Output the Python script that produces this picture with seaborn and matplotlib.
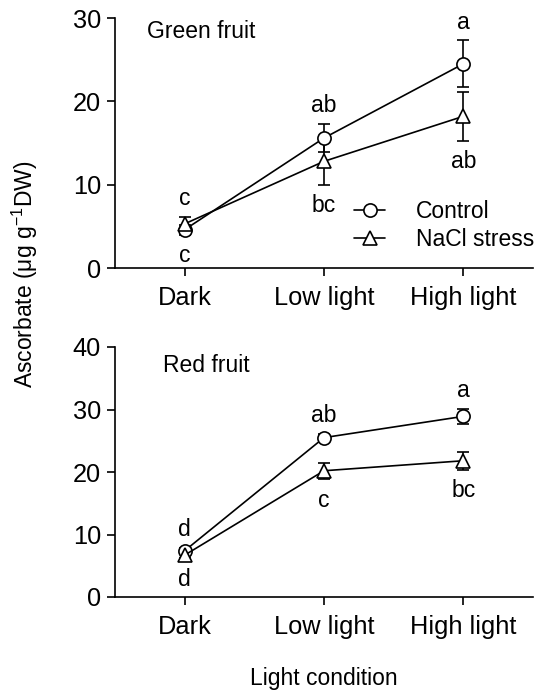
import matplotlib
matplotlib.use("Agg")
import matplotlib.pyplot as plt
import seaborn as sns
import pandas as pd

conditions = ["Dark", "Low light", "High light"]
treatments = ["Control", "NaCl stress"]

green_control = [4.6, 15.6, 24.5]
green_control_err = [0.6, 1.7, 2.8]
green_nacl = [5.3, 12.8, 18.2]
green_nacl_err = [0.8, 2.8, 2.9]
green_letters_control = ["c", "ab", "a"]
green_letters_nacl = ["c", "bc", "ab"]

red_control = [7.4, 25.5, 28.9]
red_control_err = [0.5, 0.6, 1.2]
red_nacl = [6.7, 20.2, 21.8]
red_nacl_err = [0.5, 1.3, 1.4]
red_letters_control = ["d", "ab", "a"]
red_letters_nacl = ["d", "c", "bc"]

sns.set_style("ticks")
plt.rcParams["font.family"] = ["Liberation Sans", "DejaVu Sans"]
plt.rcParams["mathtext.fontset"] = "custom"
plt.rcParams["mathtext.rm"] = "Liberation Sans"
for k in ["text.color", "axes.labelcolor", "xtick.color", "ytick.color", "axes.edgecolor"]:
    plt.rcParams[k] = "black"

fig = plt.figure(figsize=(5.36, 6.90), dpi=100)
ax1 = fig.add_axes([115 / 536, 1 - 268 / 690, 418 / 536, 250 / 690])
ax2 = fig.add_axes([115 / 536, 1 - 597 / 690, 418 / 536, 250 / 690])

TICK_FS = 18.3
TXT_FS = 16.5
LW = 1.2


def draw_panel(ax, ctrl, ctrl_err, nacl, nacl_err, let_c, let_n, ymax, ystep, title, title_xy):
    df = pd.DataFrame({
        "condition": conditions * 2,
        "value": ctrl + nacl,
        "treatment": [treatments[0]] * 3 + [treatments[1]] * 3,
    })
    sns.lineplot(data=df, x="condition", y="value", style="treatment",
                 markers={"Control": "o", "NaCl stress": "^"}, dashes=False,
                 color="black", markerfacecolor="white", markeredgecolor="black",
                 markeredgewidth=LW, markersize=9.5, linewidth=LW,
                 legend=False, ax=ax, zorder=3)
    handles = list(ax.lines[:2])
    ax.errorbar(conditions, ctrl, yerr=ctrl_err, fmt="none", ecolor="black",
                elinewidth=LW, capsize=4, capthick=LW, zorder=2)
    ax.errorbar(conditions, nacl, yerr=nacl_err, fmt="none", ecolor="black",
                elinewidth=LW, capsize=4, capthick=LW, zorder=2)
    for i, c in enumerate(conditions):
        top = max(ctrl[i] + ctrl_err[i], nacl[i] + nacl_err[i])
        bot = min(ctrl[i] - ctrl_err[i], nacl[i] - nacl_err[i])
        top_lab = let_c[i] if ctrl[i] >= nacl[i] else let_n[i]
        bot_lab = let_n[i] if ctrl[i] >= nacl[i] else let_c[i]
        ax.annotate(top_lab, (i, top), xytext=(0, 5), textcoords="offset points",
                    ha="center", va="bottom", fontsize=TXT_FS)
        ax.annotate(bot_lab, (i, bot), xytext=(0, -7), textcoords="offset points",
                    ha="center", va="top", fontsize=TXT_FS)
    ax.set_xlim(-0.5, 2.5)
    ax.set_ylim(0, ymax)
    ax.set_yticks(range(0, ymax + 1, ystep))
    ax.set_xlabel("")
    ax.set_ylabel("")
    ax.tick_params(axis="both", labelsize=TICK_FS, length=6, width=LW, pad=4, color="black")
    ax.tick_params(axis="x", pad=7)
    for s in ["top", "right"]:
        ax.spines[s].set_visible(False)
    for s in ["left", "bottom"]:
        ax.spines[s].set_linewidth(LW)
        ax.spines[s].set_color("black")
    ax.text(title_xy[0], title_xy[1], title, transform=ax.transAxes,
            fontsize=TXT_FS, ha="left", va="center")
    return handles


h = draw_panel(ax1, green_control, green_control_err, green_nacl, green_nacl_err,
               green_letters_control, green_letters_nacl, 30, 10, "Green fruit", (0.077, 0.944))
draw_panel(ax2, red_control, red_control_err, red_nacl, red_nacl_err,
           red_letters_control, red_letters_nacl, 40, 10, "Red fruit", (0.115, 0.928))

ax1.legend(h, treatments, loc="upper left", bbox_to_anchor=(0.572, 0.27),
           frameon=False, fontsize=TXT_FS, handlelength=1.35, handletextpad=1.35,
           borderpad=0, borderaxespad=0, labelspacing=0.2)

fig.text(25 / 536, 1 - 274 / 690, r"Ascorbate (μg g$^{-1}$DW)", rotation=90,
         ha="center", va="center", fontsize=TXT_FS)
fig.text(324 / 536, 1 - 678 / 690, "Light condition", ha="center", va="center",
         fontsize=TXT_FS)

fig.savefig("out.png", dpi=100)
